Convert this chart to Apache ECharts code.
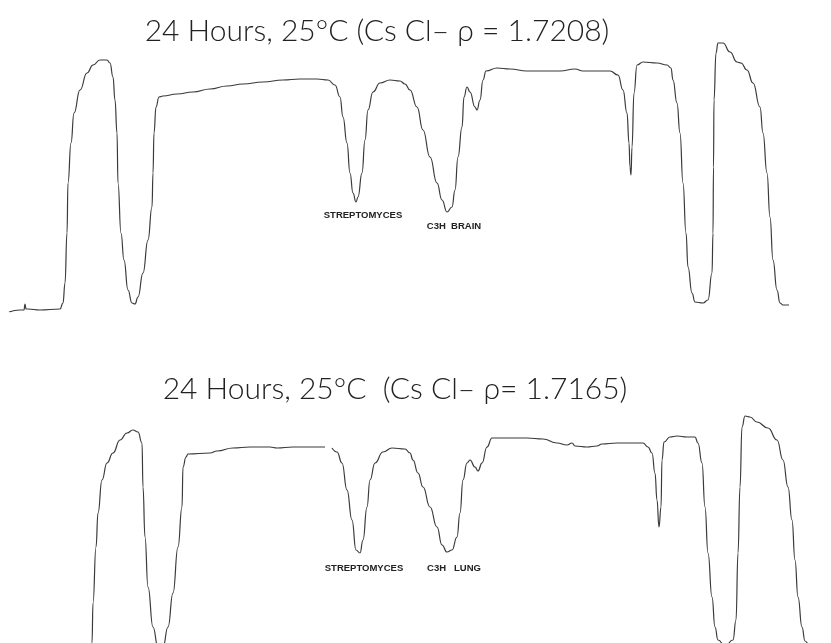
<!DOCTYPE html>
<html>
<head>
<meta charset="utf-8">
<script src="https://cdn.jsdelivr.net/npm/echarts@6/dist/echarts.min.js"></script>
<style>html,body{margin:0;padding:0;background:#fff;}#c{width:831px;height:643px;}</style>
</head>
<body>
<div id="c"></div>
<script>
// Position along gradient (arbitrary units) and optical density (arbitrary units)
var titleTop = "24 Hours, 25°C (Cs Cl– ρ = 1.7208)";
var titleBottom = "24 Hours, 25°C  (Cs Cl– ρ= 1.7165)";
var peakLabelsTop = ["STREPTOMYCES", "C3H  BRAIN"];
var peakLabelsBottom = ["STREPTOMYCES", "C3H   LUNG"];

var traceTop = [
[9,0],[20,2],[24,2],[25,8],[26,3],[28,3],[40,2],[60,3],[63,9],[65,29],[67,79],[68,129],[71,169],[74,199],[80,222],[87,239],[93,247],[100,252],[107,252],[110,249],[113,235],[115,212],[117,179],[118,129],[121,79],[124,52],[128,22],[132,9],[135,8],[138,15],[143,39],[148,72],[152,105],[153,139],[154,179],[156,205],[159,215],[163,216],[177,218],[193,220],[210,223],[227,226],[243,228],[263,230],[283,232],[300,233],[317,233],[328,232],[335,227],[340,215],[343,195],[347,169],[350,139],[353,119],[356,110],[358,115],[362,139],[365,172],[368,202],[373,220],[380,229],[390,232],[400,231],[405,228],[410,222],[417,205],[423,182],[430,155],[437,129],[442,112],[447,100],[452,105],[455,122],[458,155],[462,185],[464,215],[467,225],[470,220],[475,205],[477,202],[480,212],[483,232],[486,241],[497,244],[510,243],[527,241],[543,241],[560,241],[575,243],[583,241],[610,241],[618,237],[623,222],[627,199],[629,169],[630,145],[631,137],[632,165],[634,219],[637,247],[643,250],[657,249],[667,247],[671,244],[673,232],[677,209],[680,179],[683,129],[686,79],[688,45],[692,19],[695,10],[703,9],[708,12],[712,39],[713,79],[713.5,145],[714,212],[716,259],[718,269],[723,269],[730,260],[737,250],[741,249],[747,242],[753,229],[760,205],[763,179],[767,139],[770,95],[773,52],[777,22],[780,9],[783,7],[789,7]
];

var traceBottom = [
[91,-12],[92,0],[93,40],[96,96],[98,130],[102,163],[107,180],[113,190],[120,203],[127,210],[133,213],[138,211],[142,200],[143,156],[145,106],[148,56],[153,16],[158,-4],[163,-4],[168,16],[173,50],[178,96],[182,136],[183,176],[186,186],[188,189],[210,190],[217,192],[233,195],[250,196],[270,196],[277,195],[293,196],[325,196],[328,null],[332,195],[337,191],[342,180],[347,153],[352,123],[356,93],[360,90],[363,103],[367,136],[370,163],[375,180],[383,191],[392,195],[405,194],[410,190],[413,183],[418,170],[423,156],[430,136],[437,116],[442,98],[447,91],[452,93],[457,106],[460,130],[463,163],[467,180],[470,183],[475,176],[478,172],[482,180],[487,196],[492,205],[510,205],[527,205],[543,204],[557,200],[567,198],[572,200],[575,197],[587,196],[597,197],[602,199],[617,200],[643,200],[648,196],[652,190],[655,170],[657,143],[659,116],[661,136],[662,183],[664,201],[670,206],[677,207],[687,206],[695,206],[698,200],[702,180],[705,136],[708,90],[712,46],[715,16],[718,3],[725,-3],[733,3],[736,23],[738,90],[740,156],[742,216],[745,227],[750,226],[757,221],[768,215],[777,203],[783,183],[788,156],[792,123],[795,83],[798,46],[802,16],[805,2],[810,-3],[831,-3]
];

var chart = echarts.init(document.getElementById('c'), null, {renderer: 'canvas'});
var titleFont = {fontFamily: 'Lato, "Open Sans", sans-serif', fontWeight: 300, fontSize: 30, color: '#222'};
var smallFont = {fontFamily: '"Liberation Sans", Arial, sans-serif', fontWeight: 'bold', fontSize: 9.5, color: '#222'};
var xA = {type: 'value', min: 0, max: 831, show: false};
var yA = {type: 'value', min: 0, max: 312, show: false};
chart.setOption({
  animation: false,
  backgroundColor: '#fff',
  title: [
    {text: titleTop, left: 372, top: 11, textAlign: 'center', textStyle: titleFont},
    {text: titleBottom, left: 390, top: 369, textAlign: 'center', textStyle: titleFont},
    {text: peakLabelsTop[0], left: 358, top: 205, textAlign: 'center', textStyle: smallFont},
    {text: peakLabelsTop[1], left: 449, top: 216, textAlign: 'center', textStyle: smallFont},
    {text: peakLabelsBottom[0], left: 359, top: 558, textAlign: 'center', textStyle: smallFont},
    {text: peakLabelsBottom[1], left: 449, top: 558, textAlign: 'center', textStyle: smallFont}
  ],
  grid: [
    {left: 0, right: 0, top: 0, height: 312, show: false},
    {left: 0, right: 0, top: 331, height: 312, show: false}
  ],
  xAxis: [Object.assign({gridIndex: 0}, xA), Object.assign({gridIndex: 1}, xA)],
  yAxis: [Object.assign({gridIndex: 0}, yA), Object.assign({gridIndex: 1}, yA)],
  series: [
    {type: 'line', xAxisIndex: 0, yAxisIndex: 0, data: traceTop, showSymbol: false, smooth: 0.5, smoothMonotone: 'x', clip: true,
     lineStyle: {color: '#3a3a3a', width: 1.2}},
    {type: 'line', xAxisIndex: 1, yAxisIndex: 1, data: traceBottom, showSymbol: false, smooth: 0.5, smoothMonotone: 'x', clip: true, connectNulls: false,
     lineStyle: {color: '#3a3a3a', width: 1.2}}
  ]
});
</script>
</body>
</html>
